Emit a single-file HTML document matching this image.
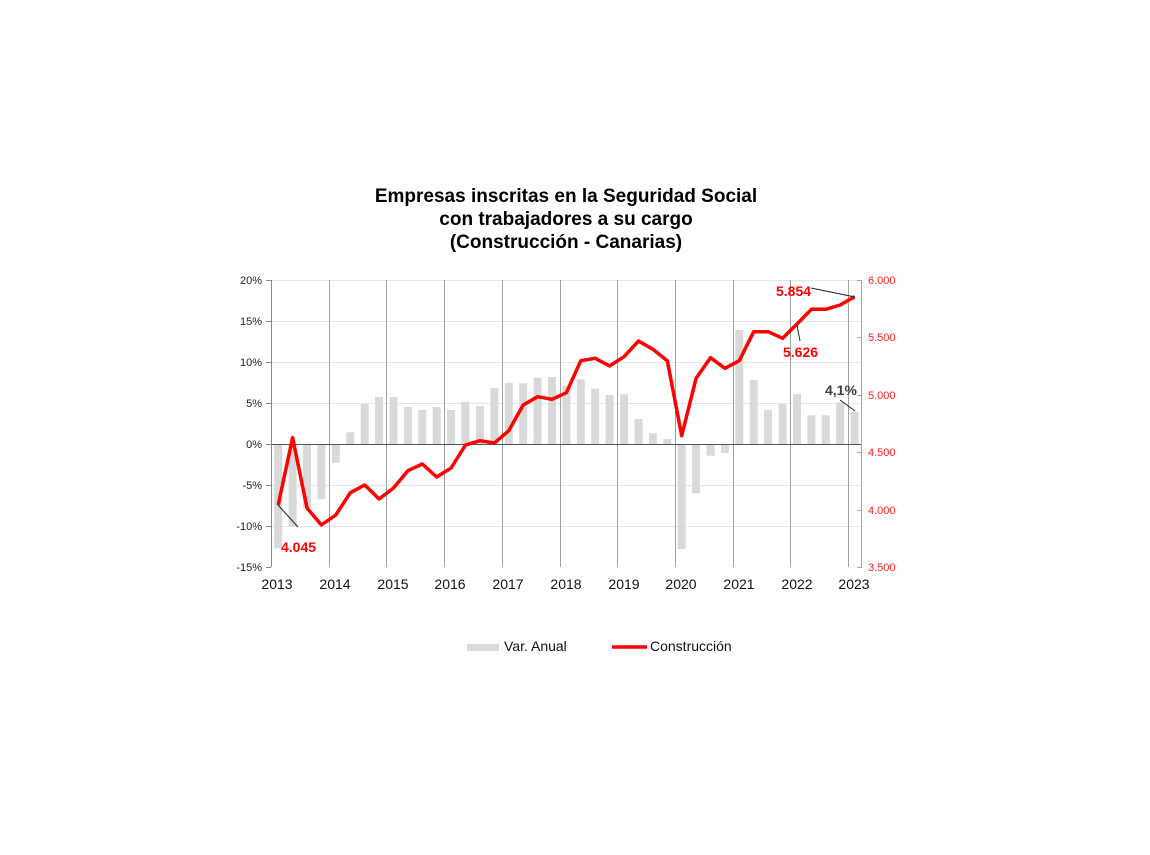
<!DOCTYPE html>
<html><head><meta charset="utf-8"><style>
html,body{margin:0;padding:0;background:#fff;}
svg text{font-family:"Liberation Sans",Arial,sans-serif;}
</style></head><body>
<svg width="1150" height="850" viewBox="0 0 1150 850" xmlns="http://www.w3.org/2000/svg">
<g font-weight="bold" font-size="19" text-anchor="middle" fill="#000">
<text x="566" y="202">Empresas inscritas en la Seguridad Social</text>
<text x="566" y="225">con trabajadores a su cargo</text>
<text x="566" y="248">(Construcción - Canarias)</text>
</g>
<g stroke="#e4e4e4" stroke-width="1">
<line x1="271" y1="280.5" x2="862" y2="280.5"/>
<line x1="271" y1="321.5" x2="862" y2="321.5"/>
<line x1="271" y1="362.5" x2="862" y2="362.5"/>
<line x1="271" y1="403.5" x2="862" y2="403.5"/>
<line x1="271" y1="485.5" x2="862" y2="485.5"/>
<line x1="271" y1="526.5" x2="862" y2="526.5"/>
</g>
<g stroke="#a0a0a0" stroke-width="1">
<line x1="329.5" y1="280" x2="329.5" y2="567"/>
<line x1="386.5" y1="280" x2="386.5" y2="567"/>
<line x1="444.5" y1="280" x2="444.5" y2="567"/>
<line x1="502.5" y1="280" x2="502.5" y2="567"/>
<line x1="560.5" y1="280" x2="560.5" y2="567"/>
<line x1="617.5" y1="280" x2="617.5" y2="567"/>
<line x1="675.5" y1="280" x2="675.5" y2="567"/>
<line x1="733.5" y1="280" x2="733.5" y2="567"/>
<line x1="790.5" y1="280" x2="790.5" y2="567"/>
<line x1="848.5" y1="280" x2="848.5" y2="567"/>
</g>
<g fill="#d9d9d9">
<rect x="274.2" y="444" width="8" height="104.3"/>
<rect x="288.6" y="444" width="8" height="82.7"/>
<rect x="303.0" y="444" width="8" height="64"/>
<rect x="317.4" y="444" width="8" height="55.3"/>
<rect x="331.8" y="444" width="8" height="18.7"/>
<rect x="346.3" y="432.3" width="8" height="11.7"/>
<rect x="360.7" y="404" width="8" height="40"/>
<rect x="375.1" y="397" width="8" height="47"/>
<rect x="389.5" y="397" width="8" height="47"/>
<rect x="403.9" y="407" width="8" height="37"/>
<rect x="418.3" y="410" width="8" height="34"/>
<rect x="432.7" y="407" width="8" height="37"/>
<rect x="447.1" y="410" width="8" height="34"/>
<rect x="461.5" y="402" width="8" height="42"/>
<rect x="475.9" y="406.3" width="8" height="37.7"/>
<rect x="490.4" y="388" width="8" height="56"/>
<rect x="504.8" y="382.7" width="8" height="61.3"/>
<rect x="519.2" y="383.3" width="8" height="60.7"/>
<rect x="533.6" y="377.7" width="8" height="66.3"/>
<rect x="548.0" y="377" width="8" height="67"/>
<rect x="562.4" y="386" width="8" height="58"/>
<rect x="576.8" y="379.3" width="8" height="64.7"/>
<rect x="591.2" y="388.7" width="8" height="55.3"/>
<rect x="605.6" y="395" width="8" height="49"/>
<rect x="620.0" y="394.3" width="8" height="49.7"/>
<rect x="634.5" y="419" width="8" height="25"/>
<rect x="648.9" y="433.3" width="8" height="10.7"/>
<rect x="663.3" y="439" width="8" height="5"/>
<rect x="677.7" y="444" width="8" height="105"/>
<rect x="692.1" y="444" width="8" height="49.3"/>
<rect x="706.5" y="444" width="8" height="11.7"/>
<rect x="720.9" y="444" width="8" height="9"/>
<rect x="735.3" y="330" width="8" height="114"/>
<rect x="749.7" y="380" width="8" height="64"/>
<rect x="764.1" y="410" width="8" height="34"/>
<rect x="778.6" y="404" width="8" height="40"/>
<rect x="793.0" y="394" width="8" height="50"/>
<rect x="807.4" y="415.3" width="8" height="28.7"/>
<rect x="821.8" y="415.3" width="8" height="28.7"/>
<rect x="836.2" y="402.3" width="8" height="41.7"/>
<rect x="850.6" y="411.7" width="8" height="32.3"/>
</g>
<line x1="271" y1="444.5" x2="862" y2="444.5" stroke="#555" stroke-width="1"/>
<g stroke="#888" stroke-width="1">
<line x1="271.5" y1="280" x2="271.5" y2="567"/>
<line x1="266" y1="280.5" x2="271" y2="280.5"/><line x1="266" y1="321.5" x2="271" y2="321.5"/>
<line x1="266" y1="362.5" x2="271" y2="362.5"/><line x1="266" y1="403.5" x2="271" y2="403.5"/>
<line x1="266" y1="444.5" x2="271" y2="444.5"/><line x1="266" y1="485.5" x2="271" y2="485.5"/>
<line x1="266" y1="526.5" x2="271" y2="526.5"/><line x1="266" y1="567.5" x2="271" y2="567.5"/>
</g>
<g stroke="#ff8080" stroke-width="1">
<line x1="861.5" y1="280" x2="861.5" y2="567"/>
<line x1="857" y1="280.5" x2="862" y2="280.5"/><line x1="857" y1="337.5" x2="862" y2="337.5"/>
<line x1="857" y1="395.5" x2="862" y2="395.5"/><line x1="857" y1="452.5" x2="862" y2="452.5"/>
<line x1="857" y1="510.5" x2="862" y2="510.5"/><line x1="857" y1="567.5" x2="862" y2="567.5"/>
</g>
<g font-size="11" fill="#222" text-anchor="end">
<text x="262" y="284">20%</text><text x="262" y="325">15%</text><text x="262" y="366">10%</text>
<text x="262" y="407">5%</text><text x="262" y="448">0%</text><text x="262" y="489">-5%</text>
<text x="262" y="530">-10%</text><text x="262" y="571">-15%</text>
</g>
<g font-size="11" fill="#ff2020">
<text x="868" y="284">6.000</text><text x="868" y="341">5.500</text><text x="868" y="399">5.000</text>
<text x="868" y="456">4.500</text><text x="868" y="514">4.000</text><text x="868" y="571">3.500</text>
</g>
<g font-size="14" fill="#111" text-anchor="middle">
<text x="277" y="589">2013</text><text x="335" y="589">2014</text><text x="393" y="589">2015</text>
<text x="450" y="589">2016</text><text x="508" y="589">2017</text><text x="566" y="589">2018</text>
<text x="624" y="589">2019</text><text x="681" y="589">2020</text><text x="739" y="589">2021</text>
<text x="797" y="589">2022</text><text x="854" y="589">2023</text>
</g>
<polyline fill="none" stroke="#ff0000" stroke-width="3.5" stroke-linejoin="round" points="278.2,505 292.6,437.7 307.0,508 321.4,525 335.8,515 350.3,492.7 364.7,485 379.1,499 393.5,488 407.9,470.7 422.3,464 436.7,477 451.1,468 465.5,445 479.9,440.7 494.4,443 508.8,430.7 523.2,405 537.6,396.7 552.0,399.3 566.4,392.7 580.8,360.7 595.2,358.3 609.6,366 624.0,356.7 638.5,341 652.9,349.3 667.3,360.7 681.7,435.7 696.1,378.3 710.5,357.7 724.9,368.3 739.3,360.7 753.7,331.7 768.1,331.7 782.6,338.3 797.0,324 811.4,309.3 825.8,309.3 840.2,305 854.6,296.7"/>
<g stroke="#222" stroke-width="1">
<line x1="278" y1="505" x2="298" y2="527"/>
<line x1="811" y1="288" x2="855" y2="297"/>
<line x1="797" y1="325" x2="800" y2="341"/>
<line x1="840" y1="400" x2="855" y2="411"/>
</g>
<g font-size="14" font-weight="bold">
<text x="281" y="552" fill="#ff0000">4.045</text>
<text x="776" y="296" fill="#ff0000">5.854</text>
<text x="783" y="357" fill="#ff0000">5.626</text>
<text x="825" y="395" fill="#404040">4,1%</text>
</g>
<rect x="467" y="644" width="32" height="7" fill="#d9d9d9"/>
<text x="504" y="651" font-size="14" fill="#111">Var. Anual</text>
<line x1="612" y1="647" x2="647" y2="647" stroke="#ff0000" stroke-width="3.5"/>
<text x="650" y="651" font-size="14" fill="#111">Construcción</text>
</svg>
</body></html>
